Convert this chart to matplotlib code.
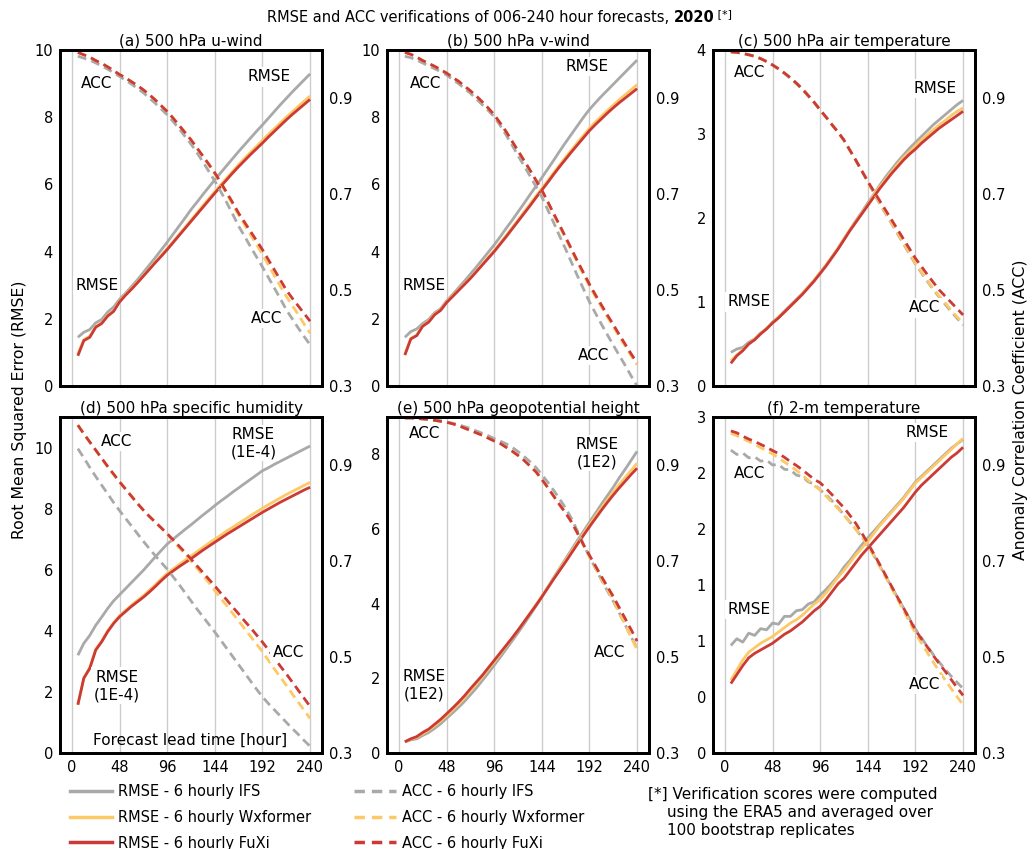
import matplotlib
matplotlib.use('Agg')
import matplotlib.pyplot as plt
from matplotlib.lines import Line2D
from matplotlib.ticker import FormatStrFormatter

# lead times (hours)
hours = list(range(6, 241, 6))

# ---- (a) 500 hPa u-wind
u_rmse_ifs = [1.45, 1.6, 1.68, 1.88, 1.98, 2.2, 2.35, 2.58, 2.76, 2.96, 3.16, 3.38, 3.6, 3.82, 4.05, 4.28,
              4.52, 4.76, 5.0, 5.25, 5.47, 5.7, 5.92, 6.14, 6.35, 6.56, 6.77, 6.98, 7.18, 7.38, 7.58, 7.77,
              7.97, 8.17, 8.37, 8.56, 8.75, 8.93, 9.11, 9.29]
u_rmse_wxf = [0.95, 1.38, 1.48, 1.77, 1.88, 2.1, 2.24, 2.52, 2.72, 2.9, 3.09, 3.29, 3.49, 3.69, 3.89, 4.09,
              4.3, 4.51, 4.72, 4.94, 5.15, 5.37, 5.58, 5.79, 5.99, 6.19, 6.39, 6.59, 6.78, 6.96, 7.13, 7.31,
              7.49, 7.66, 7.83, 8.0, 8.16, 8.32, 8.48, 8.63]
u_rmse_fuxi = [0.9, 1.35, 1.45, 1.75, 1.86, 2.08, 2.22, 2.5, 2.7, 2.88, 3.07, 3.27, 3.47, 3.67, 3.86, 4.06,
               4.27, 4.48, 4.69, 4.9, 5.11, 5.32, 5.53, 5.74, 5.94, 6.14, 6.34, 6.53, 6.71, 6.89, 7.06, 7.23,
               7.41, 7.58, 7.75, 7.92, 8.08, 8.23, 8.38, 8.53]
u_acc_ifs = [0.987, 0.983, 0.979, 0.973, 0.967, 0.96, 0.953, 0.945, 0.937, 0.929, 0.92, 0.911, 0.9, 0.889,
             0.877, 0.865, 0.851, 0.836, 0.82, 0.804, 0.786, 0.767, 0.747, 0.727, 0.705, 0.682, 0.658, 0.633,
             0.612, 0.59, 0.569, 0.548, 0.526, 0.504, 0.482, 0.459, 0.44, 0.421, 0.403, 0.386]
u_acc_wxf = [0.995, 0.99, 0.985, 0.978, 0.972, 0.965, 0.957, 0.949, 0.942, 0.934, 0.926, 0.917, 0.907, 0.896,
             0.884, 0.872, 0.858, 0.843, 0.828, 0.812, 0.795, 0.778, 0.76, 0.742, 0.722, 0.7, 0.678, 0.656,
             0.636, 0.615, 0.595, 0.574, 0.552, 0.53, 0.508, 0.487, 0.468, 0.449, 0.429, 0.41]
u_acc_fuxi = [0.995, 0.99, 0.985, 0.978, 0.972, 0.965, 0.957, 0.949, 0.942, 0.934, 0.926, 0.917, 0.907, 0.896,
              0.884, 0.872, 0.858, 0.843, 0.828, 0.813, 0.796, 0.779, 0.762, 0.744, 0.724, 0.703, 0.682, 0.66,
              0.641, 0.622, 0.603, 0.584, 0.563, 0.542, 0.521, 0.5, 0.483, 0.467, 0.451, 0.435]

# ---- (b) 500 hPa v-wind
v_rmse_ifs = [1.45, 1.62, 1.7, 1.86, 1.98, 2.18, 2.3, 2.53, 2.72, 2.92, 3.12, 3.33, 3.54, 3.76, 3.98, 4.2,
              4.44, 4.69, 4.93, 5.18, 5.43, 5.69, 5.94, 6.2, 6.46, 6.72, 6.99, 7.25, 7.5, 7.75, 8.0, 8.23,
              8.43, 8.62, 8.8, 8.98, 9.16, 9.34, 9.52, 9.7]
v_rmse_wxf = [0.95, 1.42, 1.52, 1.8, 1.92, 2.14, 2.27, 2.5, 2.68, 2.86, 3.04, 3.22, 3.42, 3.62, 3.83, 4.03,
              4.25, 4.48, 4.71, 4.94, 5.18, 5.41, 5.65, 5.88, 6.11, 6.35, 6.58, 6.81, 7.03, 7.25, 7.46, 7.67,
              7.86, 8.03, 8.2, 8.36, 8.52, 8.67, 8.82, 8.97]
v_rmse_fuxi = [0.92, 1.4, 1.5, 1.78, 1.9, 2.12, 2.25, 2.48, 2.66, 2.84, 3.02, 3.2, 3.4, 3.6, 3.8, 4.0,
               4.22, 4.44, 4.67, 4.9, 5.13, 5.36, 5.6, 5.83, 6.06, 6.3, 6.53, 6.75, 6.97, 7.18, 7.39, 7.6,
               7.78, 7.95, 8.12, 8.28, 8.43, 8.57, 8.71, 8.85]
v_acc_ifs = [0.987, 0.984, 0.979, 0.973, 0.967, 0.961, 0.955, 0.948, 0.939, 0.93, 0.92, 0.91, 0.898, 0.886,
             0.874, 0.861, 0.843, 0.823, 0.802, 0.78, 0.759, 0.738, 0.716, 0.694, 0.667, 0.64, 0.612, 0.585,
             0.557, 0.529, 0.502, 0.475, 0.452, 0.429, 0.407, 0.385, 0.364, 0.343, 0.321, 0.3]
v_acc_wxf = [0.995, 0.991, 0.985, 0.978, 0.972, 0.966, 0.959, 0.952, 0.943, 0.935, 0.925, 0.915, 0.904, 0.892,
             0.879, 0.865, 0.848, 0.83, 0.81, 0.79, 0.77, 0.75, 0.729, 0.707, 0.682, 0.657, 0.632, 0.607,
             0.582, 0.557, 0.532, 0.508, 0.486, 0.465, 0.444, 0.424, 0.403, 0.383, 0.363, 0.344]
v_acc_fuxi = [0.995, 0.991, 0.985, 0.978, 0.972, 0.966, 0.959, 0.952, 0.943, 0.935, 0.925, 0.915, 0.904, 0.892,
              0.879, 0.865, 0.848, 0.83, 0.81, 0.79, 0.77, 0.75, 0.729, 0.708, 0.684, 0.659, 0.635, 0.61,
              0.585, 0.56, 0.536, 0.512, 0.49, 0.469, 0.448, 0.428, 0.407, 0.387, 0.367, 0.348]

# ---- (c) 500 hPa air temperature
t_rmse_ifs = [0.4, 0.44, 0.46, 0.52, 0.56, 0.63, 0.68, 0.76, 0.82, 0.89, 0.96, 1.03, 1.1, 1.18, 1.26, 1.35,
              1.44, 1.54, 1.64, 1.75, 1.86, 1.97, 2.07, 2.18, 2.28, 2.39, 2.49, 2.58, 2.67, 2.75, 2.83, 2.9,
              2.97, 3.04, 3.11, 3.17, 3.23, 3.29, 3.35, 3.4]
t_rmse_wxf = [0.3, 0.37, 0.43, 0.5, 0.56, 0.62, 0.69, 0.75, 0.82, 0.88, 0.95, 1.02, 1.1, 1.18, 1.26, 1.35,
              1.44, 1.54, 1.64, 1.75, 1.86, 1.96, 2.06, 2.16, 2.27, 2.37, 2.46, 2.55, 2.64, 2.72, 2.79, 2.86,
              2.93, 2.99, 3.05, 3.11, 3.16, 3.22, 3.27, 3.31]
t_rmse_fuxi = [0.27, 0.36, 0.42, 0.5, 0.55, 0.62, 0.68, 0.75, 0.81, 0.88, 0.95, 1.02, 1.09, 1.17, 1.25, 1.34,
               1.43, 1.53, 1.63, 1.74, 1.85, 1.95, 2.05, 2.15, 2.25, 2.35, 2.44, 2.53, 2.61, 2.69, 2.76, 2.82,
               2.89, 2.95, 3.01, 3.07, 3.12, 3.17, 3.22, 3.27]
t_acc_ifs = [0.996, 0.995, 0.993, 0.99, 0.987, 0.982, 0.976, 0.968, 0.96, 0.951, 0.941, 0.93, 0.918, 0.904,
             0.89, 0.875, 0.86, 0.844, 0.829, 0.812, 0.791, 0.77, 0.748, 0.726, 0.702, 0.68, 0.659, 0.638,
             0.617, 0.596, 0.575, 0.554, 0.536, 0.518, 0.501, 0.485, 0.47, 0.455, 0.441, 0.427]
t_acc_wxf = [0.996, 0.995, 0.993, 0.99, 0.987, 0.982, 0.976, 0.969, 0.961, 0.952, 0.942, 0.931, 0.919, 0.905,
             0.891, 0.875, 0.86, 0.844, 0.829, 0.812, 0.791, 0.77, 0.748, 0.726, 0.703, 0.682, 0.661, 0.64,
             0.619, 0.598, 0.577, 0.556, 0.538, 0.52, 0.503, 0.487, 0.473, 0.458, 0.444, 0.431]
t_acc_fuxi = [0.996, 0.995, 0.993, 0.99, 0.987, 0.982, 0.976, 0.969, 0.961, 0.952, 0.942, 0.931, 0.919, 0.905,
              0.891, 0.875, 0.86, 0.844, 0.829, 0.812, 0.791, 0.77, 0.748, 0.726, 0.706, 0.686, 0.666, 0.646,
              0.626, 0.606, 0.586, 0.566, 0.549, 0.532, 0.516, 0.5, 0.487, 0.474, 0.461, 0.448]

# ---- (d) 500 hPa specific humidity (1E-4)
q_rmse_ifs = [3.2, 3.59, 3.85, 4.18, 4.45, 4.73, 4.98, 5.18, 5.38, 5.58, 5.78, 5.98, 6.2, 6.42, 6.63, 6.84,
              7.0, 7.16, 7.32, 7.47, 7.63, 7.79, 7.94, 8.1, 8.25, 8.39, 8.54, 8.68, 8.82, 8.96, 9.1, 9.24,
              9.34, 9.45, 9.55, 9.65, 9.75, 9.85, 9.95, 10.05]
q_rmse_wxf = [1.58, 2.45, 2.8, 3.4, 3.67, 4.0, 4.27, 4.49, 4.67, 4.84, 5.0, 5.15, 5.33, 5.51, 5.7, 5.88,
              6.03, 6.17, 6.31, 6.45, 6.59, 6.73, 6.87, 7.0, 7.13, 7.27, 7.39, 7.52, 7.64, 7.77, 7.89, 8.01,
              8.13, 8.24, 8.35, 8.46, 8.56, 8.66, 8.76, 8.86]
q_rmse_fuxi = [1.58, 2.45, 2.77, 3.37, 3.64, 3.97, 4.24, 4.46, 4.63, 4.8, 4.95, 5.1, 5.27, 5.45, 5.64, 5.82,
               5.96, 6.1, 6.23, 6.36, 6.5, 6.64, 6.77, 6.9, 7.03, 7.16, 7.28, 7.4, 7.52, 7.64, 7.76, 7.88,
               7.99, 8.1, 8.21, 8.31, 8.41, 8.51, 8.61, 8.7]
q_acc_ifs = [0.934, 0.915, 0.895, 0.876, 0.858, 0.84, 0.822, 0.805, 0.789, 0.773, 0.757, 0.741, 0.726, 0.711,
             0.697, 0.683, 0.667, 0.651, 0.634, 0.617, 0.6, 0.584, 0.568, 0.552, 0.535, 0.518, 0.501, 0.484,
             0.467, 0.45, 0.433, 0.417, 0.403, 0.39, 0.377, 0.364, 0.351, 0.339, 0.326, 0.314]
q_acc_wxf = [0.983, 0.965, 0.948, 0.931, 0.914, 0.897, 0.881, 0.865, 0.85, 0.835, 0.82, 0.806, 0.793, 0.781,
             0.769, 0.756, 0.742, 0.728, 0.714, 0.7, 0.685, 0.67, 0.655, 0.638, 0.622, 0.607, 0.591, 0.575,
             0.559, 0.543, 0.527, 0.511, 0.493, 0.475, 0.458, 0.441, 0.423, 0.406, 0.389, 0.372]
q_acc_fuxi = [0.983, 0.965, 0.948, 0.931, 0.914, 0.897, 0.881, 0.865, 0.85, 0.835, 0.82, 0.806, 0.793, 0.781,
              0.769, 0.757, 0.744, 0.731, 0.718, 0.704, 0.69, 0.676, 0.662, 0.648, 0.633, 0.619, 0.604, 0.59,
              0.575, 0.561, 0.546, 0.531, 0.515, 0.498, 0.481, 0.465, 0.448, 0.431, 0.414, 0.397]

# ---- (e) 500 hPa geopotential height (1E2)
z_rmse_ifs = [0.3, 0.35, 0.38, 0.47, 0.55, 0.66, 0.78, 0.93, 1.07, 1.22, 1.38, 1.56, 1.74, 1.94, 2.14, 2.35,
              2.56, 2.78, 3.0, 3.22, 3.45, 3.69, 3.93, 4.18, 4.44, 4.7, 4.95, 5.2, 5.45, 5.7, 5.94, 6.18,
              6.42, 6.66, 6.89, 7.12, 7.37, 7.6, 7.84, 8.08]
z_rmse_wxf = [0.3, 0.37, 0.42, 0.52, 0.61, 0.73, 0.86, 1.0, 1.15, 1.31, 1.48, 1.67, 1.85, 2.04, 2.24, 2.44,
              2.65, 2.86, 3.07, 3.29, 3.51, 3.74, 3.97, 4.2, 4.44, 4.68, 4.92, 5.16, 5.4, 5.64, 5.88, 6.11,
              6.34, 6.56, 6.78, 6.99, 7.19, 7.38, 7.57, 7.76]
z_rmse_fuxi = [0.3, 0.38, 0.44, 0.55, 0.64, 0.77, 0.9, 1.05, 1.2, 1.36, 1.53, 1.72, 1.9, 2.08, 2.28, 2.48,
               2.68, 2.88, 3.08, 3.29, 3.51, 3.73, 3.95, 4.18, 4.42, 4.66, 4.89, 5.12, 5.36, 5.6, 5.83, 6.06,
               6.28, 6.5, 6.71, 6.91, 7.1, 7.28, 7.46, 7.63]
z_acc_ifs = [0.998, 0.998, 0.997, 0.996, 0.995, 0.994, 0.992, 0.99, 0.987, 0.984, 0.98, 0.976, 0.971, 0.966,
             0.961, 0.955, 0.95, 0.944, 0.937, 0.928, 0.918, 0.907, 0.895, 0.88, 0.864, 0.847, 0.829, 0.81,
             0.788, 0.762, 0.734, 0.709, 0.685, 0.661, 0.638, 0.616, 0.592, 0.567, 0.542, 0.518]
z_acc_wxf = [0.998, 0.998, 0.997, 0.996, 0.995, 0.993, 0.991, 0.989, 0.986, 0.982, 0.977, 0.972, 0.967, 0.962,
             0.956, 0.95, 0.945, 0.937, 0.929, 0.92, 0.91, 0.898, 0.886, 0.87, 0.853, 0.835, 0.817, 0.8,
             0.781, 0.757, 0.732, 0.709, 0.686, 0.663, 0.641, 0.618, 0.593, 0.567, 0.541, 0.515]
z_acc_fuxi = [0.998, 0.998, 0.997, 0.996, 0.995, 0.993, 0.991, 0.989, 0.986, 0.982, 0.977, 0.972, 0.967, 0.962,
              0.956, 0.95, 0.945, 0.937, 0.929, 0.92, 0.91, 0.898, 0.886, 0.87, 0.853, 0.835, 0.817, 0.8,
              0.781, 0.758, 0.734, 0.712, 0.69, 0.668, 0.647, 0.626, 0.603, 0.58, 0.557, 0.533]

# ---- (f) 2-m temperature
s_rmse_ifs = [0.96, 1.02, 0.99, 1.07, 1.05, 1.11, 1.1, 1.16, 1.15, 1.22, 1.22, 1.27, 1.28, 1.33, 1.35, 1.41,
              1.46, 1.52, 1.58, 1.66, 1.72, 1.79, 1.86, 1.92, 1.98, 2.04, 2.1, 2.16, 2.22, 2.28, 2.35, 2.42,
              2.47, 2.52, 2.57, 2.62, 2.67, 2.72, 2.76, 2.8]
s_rmse_wxf = [0.65, 0.74, 0.83, 0.9, 0.94, 0.98, 1.01, 1.04, 1.08, 1.12, 1.16, 1.19, 1.23, 1.28, 1.33, 1.37,
              1.43, 1.5, 1.57, 1.63, 1.7, 1.77, 1.83, 1.89, 1.96, 2.03, 2.09, 2.15, 2.21, 2.27, 2.34, 2.41,
              2.46, 2.51, 2.56, 2.61, 2.66, 2.71, 2.76, 2.81]
s_rmse_fuxi = [0.62, 0.7, 0.78, 0.85, 0.89, 0.92, 0.95, 0.98, 1.02, 1.06, 1.09, 1.13, 1.17, 1.22, 1.27, 1.31,
               1.37, 1.44, 1.51, 1.56, 1.63, 1.7, 1.77, 1.83, 1.89, 1.95, 2.01, 2.07, 2.13, 2.19, 2.26, 2.33,
               2.39, 2.44, 2.49, 2.54, 2.59, 2.64, 2.68, 2.73]
s_acc_ifs = [0.931, 0.922, 0.925, 0.915, 0.917, 0.908, 0.91, 0.9, 0.901, 0.891, 0.89, 0.879, 0.876, 0.865,
             0.86, 0.848, 0.838, 0.825, 0.811, 0.796, 0.781, 0.766, 0.75, 0.733, 0.712, 0.69, 0.668, 0.646,
             0.624, 0.602, 0.58, 0.558, 0.54, 0.522, 0.505, 0.489, 0.474, 0.46, 0.447, 0.434]
s_acc_wxf = [0.966, 0.961, 0.955, 0.949, 0.943, 0.936, 0.93, 0.923, 0.915, 0.906, 0.898, 0.889, 0.879, 0.868,
             0.857, 0.848, 0.835, 0.822, 0.809, 0.795, 0.781, 0.766, 0.75, 0.733, 0.711, 0.689, 0.666, 0.643,
             0.62, 0.597, 0.573, 0.549, 0.529, 0.509, 0.489, 0.47, 0.452, 0.434, 0.417, 0.4]
s_acc_fuxi = [0.971, 0.967, 0.96, 0.954, 0.949, 0.943, 0.937, 0.93, 0.924, 0.916, 0.907, 0.899, 0.89, 0.88,
              0.87, 0.863, 0.851, 0.838, 0.824, 0.811, 0.795, 0.778, 0.758, 0.737, 0.715, 0.693, 0.67, 0.647,
              0.624, 0.602, 0.579, 0.556, 0.538, 0.521, 0.503, 0.486, 0.47, 0.453, 0.436, 0.42]

titles = ['(a) 500 hPa u-wind', '(b) 500 hPa v-wind', '(c) 500 hPa air temperature',
          '(d) 500 hPa specific humidity', '(e) 500 hPa geopotential height', '(f) 2-m temperature']
rmse_sets = [(u_rmse_ifs, u_rmse_wxf, u_rmse_fuxi), (v_rmse_ifs, v_rmse_wxf, v_rmse_fuxi),
             (t_rmse_ifs, t_rmse_wxf, t_rmse_fuxi), (q_rmse_ifs, q_rmse_wxf, q_rmse_fuxi),
             (z_rmse_ifs, z_rmse_wxf, z_rmse_fuxi), (s_rmse_ifs, s_rmse_wxf, s_rmse_fuxi)]
acc_sets = [(u_acc_ifs, u_acc_wxf, u_acc_fuxi), (v_acc_ifs, v_acc_wxf, v_acc_fuxi),
            (t_acc_ifs, t_acc_wxf, t_acc_fuxi), (q_acc_ifs, q_acc_wxf, q_acc_fuxi),
            (z_acc_ifs, z_acc_wxf, z_acc_fuxi), (s_acc_ifs, s_acc_wxf, s_acc_fuxi)]
rmse_ylims = [(0, 10), (0, 10), (0, 4), (0, 11), (0, 9), (0, 3)]
rmse_yticks = [[0, 2, 4, 6, 8, 10], [0, 2, 4, 6, 8, 10], [0, 1, 2, 3, 4],
               [0, 2, 4, 6, 8, 10], [0, 2, 4, 6, 8], [0, 0.5, 1, 1.5, 2, 2.5, 3]]
acc_ticks = [0.3, 0.5, 0.7, 0.9]
x_ticks = [0, 48, 96, 144, 192, 240]

# in-panel labels: (text, hour, rmse-axis value)
panel_notes = [
    [('ACC', 25, 9.0), ('RMSE', 199, 9.2), ('RMSE', 25, 3.0), ('ACC', 196, 2.0)],
    [('ACC', 27, 9.0), ('RMSE', 190, 9.5), ('RMSE', 25, 3.0), ('ACC', 196, 0.9)],
    [('ACC', 25, 3.73), ('RMSE', 212, 3.54), ('RMSE', 24, 1.0), ('ACC', 201, 0.93)],
    [('ACC', 45, 10.2), ('RMSE\n(1E-4)', 183, 10.15), ('RMSE\n(1E-4)', 45, 2.2), ('ACC', 218, 3.3)],
    [('ACC', 26, 8.57), ('RMSE\n(1E2)', 200, 8.04), ('RMSE\n(1E2)', 25, 1.82), ('ACC', 212, 2.7)],
    [('ACC', 25, 2.5), ('RMSE', 204, 2.86), ('RMSE', 24, 1.28), ('ACC', 201, 0.61)],
]

colors = ['#a9a9a9', '#fdc966', '#cc3a36']
models = ['IFS', 'Wxformer', 'FuXi']

W, H = 1032, 849
fig = plt.figure(figsize=(W / 100, H / 100), dpi=100)
lefts = [60, 387, 713]
tops = [50, 417]
aw, ah = 262, 336

for i in range(6):
    r, c = divmod(i, 3)
    ax = fig.add_axes([lefts[c] / W, 1 - (tops[r] + ah) / H, aw / W, ah / H])
    ax2 = ax.twinx()
    for k in range(3):
        ax.plot(hours, rmse_sets[i][k], color=colors[k], lw=2.0, solid_capstyle='butt', zorder=2 + k * 0.1)
        ax2.plot(hours, acc_sets[i][k], color=colors[k], lw=2.0, ls='--', dashes=(3.2, 1.9), zorder=2 + k * 0.1)
    ax.set_xlim(-12, 252)
    ax.set_ylim(*rmse_ylims[i])
    ax.set_yticks(rmse_yticks[i])
    if i == 5:
        ax.yaxis.set_major_formatter(FormatStrFormatter('%d'))
    ax2.set_ylim(0.3, 1.0)
    ax2.set_yticks(acc_ticks)
    ax.set_xticks(x_ticks)
    ax.grid(axis='x', color='#cccccc', lw=1.0, zorder=0)
    ax.set_axisbelow(True)
    ax.tick_params(length=0, pad=5, labelsize=10.5, labelbottom=(r == 1))
    ax2.tick_params(length=0, pad=5, labelsize=10.5)
    for a in (ax, ax2):
        for sp in a.spines.values():
            sp.set_linewidth(2.0)
    ax.set_title(titles[i], fontsize=11, pad=3)
    for txt, hx, yv in panel_notes[i]:
        ax2.text(hx, ax2.transData.inverted().transform(ax.transData.transform((hx, yv)))[1], txt,
                 ha='center', va='center', fontsize=11, multialignment='center', zorder=5,
                 bbox=dict(facecolor='white', edgecolor='none', pad=1.5))

# figure-level title with bold year and a small reference mark
t1 = fig.text(267 / W, 1 - 22 / H, 'RMSE and ACC verifications of 006-240 hour forecasts, ',
              fontsize=10.5, va='baseline', ha='left')
t2 = fig.text(0, 0, '2020', fontsize=10.5, fontweight='bold', va='baseline', ha='left')
t3 = fig.text(0, 0, ' [*]', fontsize=8, va='baseline', ha='left')
fig.canvas.draw()
r = fig.canvas.get_renderer()
bb1 = t1.get_window_extent(r)
t2.set_position((bb1.x1 / W, 1 - 22 / H))
fig.canvas.draw()
bb2 = t2.get_window_extent(r)
t3.set_position((bb2.x1 / W, 1 - 17 / H))

fig.text(20 / W, 1 - 410 / H, 'Root Mean Squared Error (RMSE)', rotation=90, fontsize=11.3,
         ha='center', va='center')
fig.text(1020 / W, 1 - 410 / H, 'Anomaly Correlation Coefficient (ACC)', rotation=90, fontsize=11.3,
         ha='center', va='center')
fig.text(190 / W, 1 - 740 / H, 'Forecast lead time [hour]', fontsize=11, ha='center', va='center')

handles = [Line2D([], [], color=colors[k], lw=2.5) for k in range(3)] + \
          [Line2D([], [], color=colors[k], lw=2.5, ls='--', dashes=(3, 2)) for k in range(3)]
labels = ['RMSE - 6 hourly ' + m for m in models] + ['ACC - 6 hourly ' + m for m in models]
fig.legend(handles, labels, ncol=2, loc='upper left', bbox_to_anchor=(70 / W, 1 - 784 / H),
           frameon=False, fontsize=10.5, handlelength=2.9, handletextpad=0.4,
           labelspacing=0.74, columnspacing=2.9, borderpad=0, borderaxespad=0)

fig.text(648 / W, 1 - 794 / H, '[*] Verification scores were computed', fontsize=11, va='center')
fig.text(667 / W, 1 - 812 / H, 'using the ERA5 and averaged over', fontsize=11, va='center')
fig.text(667 / W, 1 - 830 / H, '100 bootstrap replicates', fontsize=11, va='center')

fig.savefig('out.png', dpi=100)
